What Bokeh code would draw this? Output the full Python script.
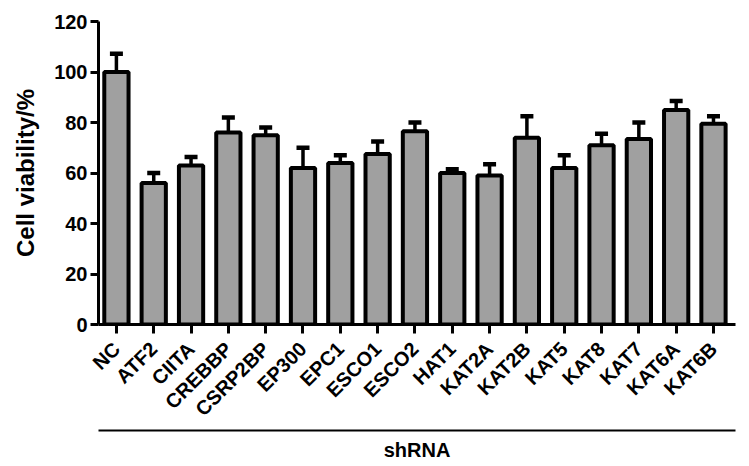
import math
from bokeh.plotting import figure
from bokeh.models import (ColumnDataSource, Range1d, FixedTicker, LinearAxis,
                          Whisker, TeeHead)
from bokeh.embed import file_html
from bokeh.resources import INLINE

categories = ["NC", "ATF2", "CIITA", "CREBBP", "CSRP2BP", "EP300", "EPC1",
              "ESCO1", "ESCO2", "HAT1", "KAT2A", "KAT2B", "KAT5", "KAT8",
              "KAT7", "KAT6A", "KAT6B"]
viability = [100, 56, 63, 76, 75, 62, 64, 67.5, 76.5, 60, 59, 74, 62, 71,
             73.5, 85, 79.5]
errors = [7.2, 4, 3.3, 6, 3, 8, 3, 5, 3.5, 1.5, 4.5, 8.5, 5, 4.5, 6.5, 3.5, 3]
y_ticks = [0, 20, 40, 60, 80, 100, 120]

xs = list(range(len(categories)))
src = ColumnDataSource(dict(
    x=xs, top=viability,
    upper=[v + e for v, e in zip(viability, errors)],
    name=categories,
))

FONT = "Liberation Sans"

p = figure(width=749, height=466, output_backend="svg", toolbar_location=None,
           x_range=Range1d(-0.48, 16.59), y_range=Range1d(0, 120),
           min_border_left=98, min_border_right=14, min_border_top=21,
           min_border_bottom=142, x_axis_location=None)
p.outline_line_color = None
p.grid.visible = False
p.background_fill_color = "white"
p.border_fill_color = "white"

p.vbar(x="x", top="top", width=0.65, bottom=0, source=src,
       fill_color="#a0a0a0", line_color="black", line_width=4)

w = Whisker(base="x", lower="top", upper="upper", source=src, dimension="height",
            line_color="black", line_width=3.5,
            upper_head=TeeHead(size=13, line_width=4.5, line_color="black"),
            lower_head=None)
p.add_layout(w)

# y axis
ya = p.yaxis[0]
ya.ticker = FixedTicker(ticks=y_ticks)
ya.axis_label = "Cell viability/%"
ya.axis_label_text_font = FONT
ya.axis_label_text_font_style = "bold"
ya.axis_label_text_font_size = "24px"
ya.axis_label_text_color = "black"
ya.axis_label_standoff = 12
ya.major_label_text_font = FONT
ya.major_label_text_font_style = "bold"
ya.major_label_text_font_size = "20px"
ya.major_label_text_color = "black"
ya.axis_line_width = 3
ya.major_tick_line_width = 3
ya.major_tick_out = 8
ya.major_tick_in = 0
ya.minor_tick_line_color = None
ya.major_label_standoff = 3

# x axis with categories
xa = LinearAxis(ticker=FixedTicker(ticks=xs),
                major_label_overrides={i: c for i, c in enumerate(categories)})
xa.major_label_orientation = math.pi / 4
xa.major_label_text_font = FONT
xa.major_label_text_font_style = "bold"
xa.major_label_text_font_size = "20px"
xa.major_label_text_color = "black"
xa.axis_line_width = 3
xa.major_tick_line_width = 3
xa.major_tick_out = 9
xa.major_tick_in = 0
xa.minor_tick_line_color = None
xa.major_label_standoff = 12
p.add_layout(xa, "below")

# bracket axis with group title
ba = LinearAxis(ticker=FixedTicker(ticks=[]))
ba.axis_line_width = 2
ba.major_tick_line_color = None
ba.minor_tick_line_color = None
ba.major_label_text_font_size = "0px"
ba.axis_label = "shRNA"
ba.axis_label_text_font = FONT
ba.axis_label_text_font_style = "bold"
ba.axis_label_text_font_size = "20px"
ba.axis_label_text_color = "black"
ba.axis_label_standoff = 8
p.add_layout(ba, "below")

open("out.html", "w").write(file_html(p, INLINE))
